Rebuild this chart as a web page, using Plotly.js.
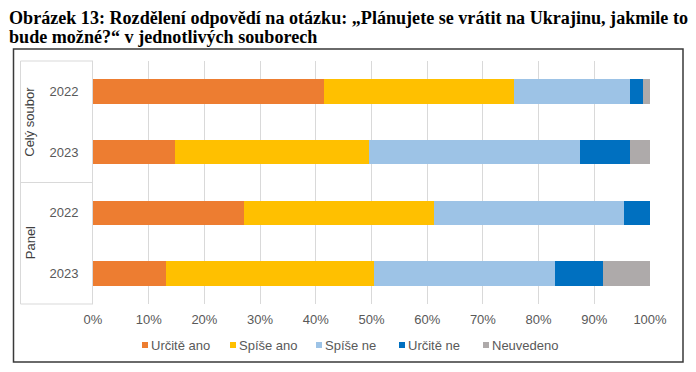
<!DOCTYPE html>
<html>
<head>
<meta charset="utf-8">
<script src="https://cdn.plot.ly/plotly-3.0.1.min.js"></script>
<style>html,body{margin:0;padding:0;background:#fff;}#chart{width:696px;height:372px;}</style>
</head>
<body>
<div id="chart"></div>
<script>
// Data
const groups = ['Celý soubor', 'Celý soubor', 'Panel', 'Panel'];
const years = ['2022', '2023', '2022', '2023'];
const seriesNames = ['Určitě ano', 'Spíše ano', 'Spíše ne', 'Určitě ne', 'Neuvedeno'];
const urciteAno = [41.5, 14.8, 27.1, 13.1];
const spiseAno = [34.0, 34.7, 34.2, 37.3];
const spiseNe = [20.9, 38.0, 34.1, 32.5];
const urciteNe = [2.3, 8.9, 4.6, 8.7];
const neuvedeno = [1.3, 3.6, 0.0, 8.4];
const xTicks = [0, 10, 20, 30, 40, 50, 60, 70, 80, 90, 100];
const titleLines = [
  'Obrázek 13: Rozdělení odpovědí na otázku: „Plánujete se vrátit na Ukrajinu, jakmile to',
  'bude možné?“ v jednotlivých souborech'
];

const colors = ['#ED7D31', '#FFC000', '#9DC3E6', '#0070C0', '#AEAAAA'];
const seriesValues = [urciteAno, spiseAno, spiseNe, urciteNe, neuvedeno];
const catKeys = groups.map((g, i) => g + ' ' + years[i]);

const traces = seriesValues.map((vals, k) => ({
  type: 'bar',
  orientation: 'h',
  name: seriesNames[k],
  y: catKeys,
  x: vals,
  width: 0.4,
  marker: {color: colors[k], line: {width: 0}},
  hoverinfo: 'skip',
  showlegend: false
}));

const W = 696, H = 372;
const L = 93, R = 46, T = 61, B = 68;
const pw = W - L - R, ph = H - T - B;
const px = v => (v - L) / pw;
const py = v => (H - B - v) / ph;

const lineCol = '#D9D9D9';
const labelFont = {family: 'Liberation Sans, Arial, sans-serif', size: 13, color: '#595959'};

const shapes = [
  // outer frame
  {type: 'rect', xref: 'paper', yref: 'paper', x0: px(13.5), x1: px(683), y0: py(362), y1: py(49),
   line: {color: '#3a3a3a', width: 1.5}, layer: 'below'},
  // group divider lines
  {type: 'line', xref: 'paper', yref: 'paper', x0: px(20.5), x1: px(20.5), y0: 0, y1: 1, line: {color: lineCol, width: 1}},
  {type: 'line', xref: 'paper', yref: 'paper', x0: px(20.5), x1: 0, y0: 1, y1: 1, line: {color: lineCol, width: 1}},
  {type: 'line', xref: 'paper', yref: 'paper', x0: px(20.5), x1: 0, y0: 0.5, y1: 0.5, line: {color: lineCol, width: 1}},
  {type: 'line', xref: 'paper', yref: 'paper', x0: px(20.5), x1: 0, y0: 0, y1: 0, line: {color: lineCol, width: 1}}
];

const uniqGroups = [...new Set(groups)];
const annotations = uniqGroups.map((g, i) => ({
  xref: 'paper', yref: 'paper', x: px(30), y: i === 0 ? 0.75 : 0.25,
  text: g, showarrow: false, textangle: -90,
  font: {family: 'Liberation Sans, Arial, sans-serif', size: 13, color: '#404040'},
  xanchor: 'center', yanchor: 'middle'
}));

// title lines
const titleY = [17.5, 37.5];
titleLines.forEach((t, i) => {
  annotations.push({
    xref: 'paper', yref: 'paper', x: px(7), y: py(titleY[i]),
    xanchor: 'left', yanchor: 'middle', showarrow: false,
    text: '<b>' + t + '</b>',
    font: {family: 'Liberation Serif, Times New Roman, serif', size: 18.1, color: '#000'}
  });
});

// custom legend (compact, like the reference)
const legendLeft = [142, 230, 316, 399, 483];
const legendY = 345;
seriesNames.forEach((n, k) => {
  shapes.push({type: 'rect', xref: 'paper', yref: 'paper',
    x0: px(legendLeft[k]), x1: px(legendLeft[k] + 6),
    y0: py(legendY + 3), y1: py(legendY - 3),
    fillcolor: colors[k], line: {width: 0}});
  annotations.push({
    xref: 'paper', yref: 'paper', x: px(legendLeft[k] + 7), y: py(legendY),
    xanchor: 'left', yanchor: 'middle', showarrow: false,
    text: n, font: labelFont
  });
});

const layout = {
  width: W, height: H,
  margin: {l: L, r: R, t: T, b: B, pad: 0},
  paper_bgcolor: '#fff', plot_bgcolor: '#fff',
  barmode: 'stack',
  showlegend: false,
  xaxis: {
    range: [0, 100], tickvals: xTicks, ticktext: xTicks.map(v => v + '%'),
    showgrid: true, gridcolor: lineCol, gridwidth: 1,
    zeroline: false, showline: false, ticks: '',
    ticklabelstandoff: 6,
    tickfont: labelFont,
    fixedrange: true
  },
  yaxis: {
    type: 'category', autorange: 'reversed',
    tickvals: catKeys, ticktext: years,
    showgrid: false, zeroline: false,
    showline: true, linecolor: lineCol, linewidth: 1,
    ticks: '', ticklabelstandoff: 11,
    tickfont: labelFont,
    fixedrange: true
  },
  shapes: shapes,
  annotations: annotations
};

Plotly.newPlot('chart', traces, layout, {displayModeBar: false, staticPlot: true});
</script>
</body>
</html>
